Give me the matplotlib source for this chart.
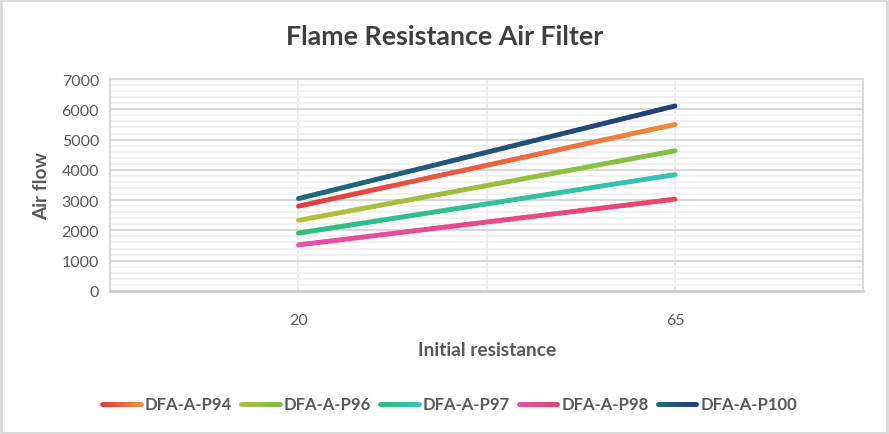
import numpy as np
import matplotlib.pyplot as plt
from matplotlib.collections import LineCollection
from matplotlib.colors import LinearSegmentedColormap
from matplotlib.legend_handler import HandlerBase
from matplotlib.lines import Line2D

# data
categories = ['20', '65']
p94 = [2800, 5500]
p96 = [2330, 4630]
p97 = [1910, 3840]
p98 = [1520, 3030]
p100 = [3050, 6110]

series = [
    ('DFA-A-P94', p94, '#e8383d', '#f2883a'),
    ('DFA-A-P96', p96, '#b3be3a', '#7cc242'),
    ('DFA-A-P97', p97, '#2dbf7a', '#35c3b6'),
    ('DFA-A-P98', p98, '#e84fa7', '#e8456a'),
    ('DFA-A-P100', p100, '#1e6a7c', '#233f7c'),
]

plt.rcParams['font.family'] = ['Lato', 'DejaVu Sans']
text_col = '#595959'
grid_major = '#d9d9d9'
grid_minor = '#efefef'


def gradient_line(ax, x, y, c0, c1, lw=3.5, n=60):
    # split each segment in small pieces so the colour can fade along it
    cmap = LinearSegmentedColormap.from_list('g', [c0, c1])
    xs, ys = [], []
    for i in range(len(x) - 1):
        t = np.linspace(0, 1, n)
        xs.append(x[i] + (x[i + 1] - x[i]) * t)
        ys.append(y[i] + (y[i + 1] - y[i]) * t)
    xs = np.concatenate(xs)
    ys = np.concatenate(ys)
    pts = np.column_stack([xs, ys]).reshape(-1, 1, 2)
    segs = np.concatenate([pts[:-1], pts[1:]], axis=1)
    lc = LineCollection(segs, cmap=cmap, linewidth=lw, capstyle='round', zorder=3)
    lc.set_array(np.linspace(0, 1, len(segs)))
    ax.add_collection(lc)
    return lc


class GradientHandler(HandlerBase):
    def create_artists(self, legend, orig, xd, yd, w, h, fs, trans):
        c0, c1 = orig.c0, orig.c1
        xs = np.linspace(xd * -1, xd * -1 + w, 30)
        y = np.full_like(xs, h / 2 - yd)
        pts = np.column_stack([xs, y]).reshape(-1, 1, 2)
        segs = np.concatenate([pts[:-1], pts[1:]], axis=1)
        cmap = LinearSegmentedColormap.from_list('g', [c0, c1])
        lc = LineCollection(segs, cmap=cmap, linewidth=3.5, capstyle='round', transform=trans)
        lc.set_array(np.linspace(0, 1, len(segs)))
        return [lc]


fig = plt.figure(figsize=(8.89, 4.35), dpi=100)
ax = fig.add_axes([0.124, 0.329, 0.847, 0.487])

x = np.arange(1, len(categories) + 1)
handles = []
for name, vals, c0, c1 in series:
    gradient_line(ax, x, vals, c0, c1)
    h = Line2D([], [], label=name)
    h.c0, h.c1 = c0, c1
    handles.append(h)

ax.set_xlim(0.5, len(categories) + 0.5)
ax.set_ylim(0, 7000)
ax.set_xticks(x)
ax.set_xticklabels(categories)
ax.set_yticks(np.arange(0, 7001, 1000))
ax.set_yticks(np.arange(0, 7001, 200), minor=True)
ax.tick_params(axis='both', length=0, labelsize=11.5, labelcolor=text_col, pad=8)
ax.tick_params(axis='x', pad=16)
ax.tick_params(which='minor', length=0)

ax.grid(axis='y', which='minor', color=grid_minor, lw=1.2, zorder=0)
ax.grid(axis='y', which='major', color=grid_major, lw=1.5, zorder=0)
for xv in [1, 1.5, 2]:
    ax.axvline(xv, color='#ececec', lw=1.5, zorder=0)
ax.set_axisbelow(True)
for s in ax.spines.values():
    s.set_color(grid_major)
    s.set_linewidth(1.5)
ax.spines['bottom'].set_color('#d0d0d0')
ax.spines['bottom'].set_linewidth(2)

ax.set_ylabel('Air flow', fontsize=13.8, fontweight='bold', color=text_col, labelpad=8)
ax.set_xlabel('Initial resistance', fontsize=13.8, fontweight='bold', color=text_col, labelpad=10)

fig.text(0.5, 0.915, 'Flame Resistance Air Filter', ha='center', va='center',
         fontsize=19.3, fontweight='bold', color='#404040')

leg = fig.legend(handles=handles, loc='center', bbox_to_anchor=(0.506, 0.068), ncol=5,
                 frameon=False, handler_map={Line2D: GradientHandler()},
                 handlelength=2.3, columnspacing=0.55, handletextpad=0.25,
                 prop={'size': 12, 'weight': 'bold'})
for t in leg.get_texts():
    t.set_color(text_col)

# chart border
fig.patches.append(plt.Rectangle((0.001, 0.002), 0.997, 0.995, transform=fig.transFigure,
                                 fill=False, edgecolor='#d9d9d9', lw=2))

fig.savefig('out.png', dpi=100)
